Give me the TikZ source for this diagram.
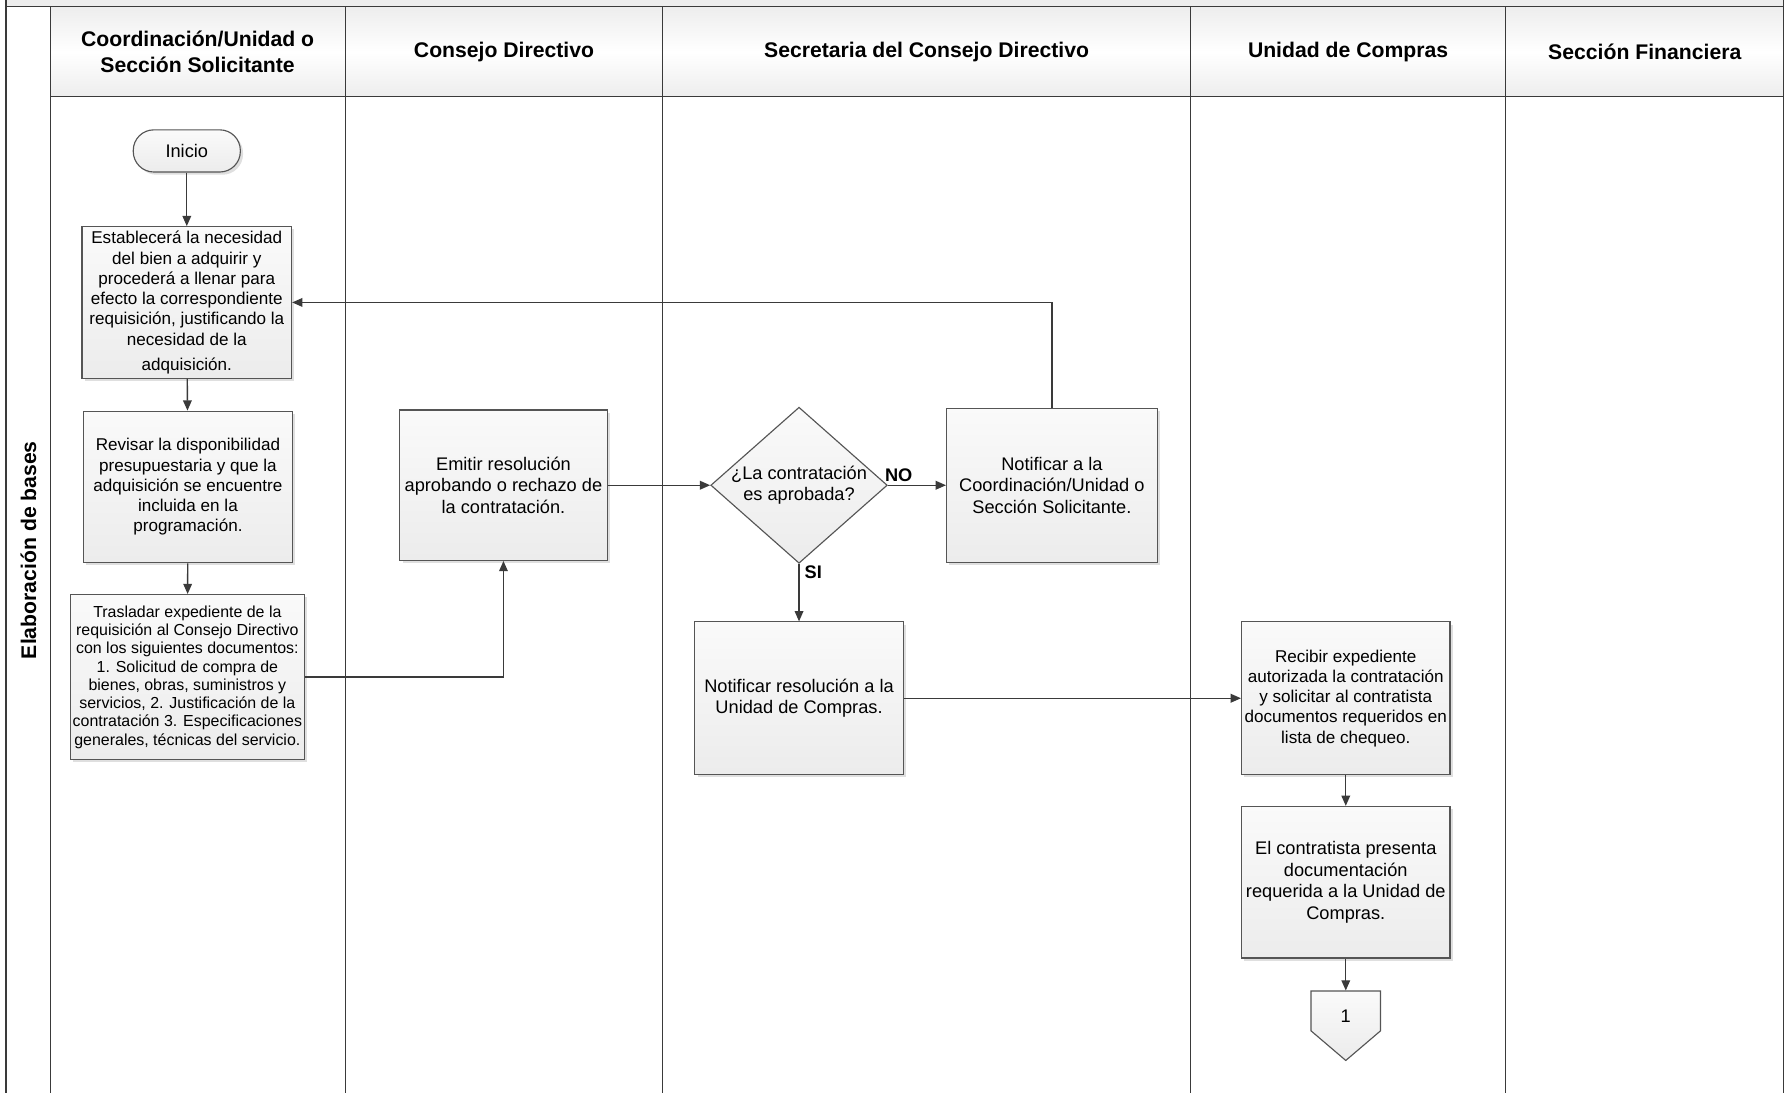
\documentclass[tikz,border=0pt]{standalone}
\usepackage{fontspec}
\setmainfont{Liberation Sans}
\usetikzlibrary{arrows.meta,shapes.geometric,shadows}
\definecolor{ln}{HTML}{3A3A3A}
\definecolor{bd}{HTML}{555555}
\tikzset{
 shd/.style={top color=gray!4, bottom color=gray!15},
 box/.style={draw=bd, line width=0.5pt, shd, drop shadow={shadow xshift=1.2pt, shadow yshift=-1.2pt, opacity=0.25}, align=center, inner sep=1pt},
 fA/.style={font=\fontsize{8}{9.5}\selectfont},
 fB/.style={font=\fontsize{7.5}{8.9}\selectfont},
 fC/.style={font=\fontsize{7}{8}\selectfont},
 hdr/.style={draw=ln, line width=0.5pt, top color=gray!14, bottom color=gray!14, middle color=white, font=\bfseries\fontsize{9.3}{11.5}\selectfont, align=center, inner sep=0pt, minimum height=39.5pt},
 conn/.style={draw=ln, line width=0.6pt, -{Triangle[length=4.5pt,width=3.8pt]}},
 lane/.style={draw=ln, line width=0.5pt},
 tag/.style={font=\bfseries\fontsize{8}{9}\selectfont, inner sep=1pt}
}
\begin{document}
\begin{tikzpicture}[x=0.5pt, y=-0.5pt]
\useasboundingbox (0,0) rectangle (1568,960);
% top band
\fill[gray!14] (5,0) rectangle (1566,6);
% pool frame
\draw[lane, line width=0.8pt] (5,0) -- (5,960);
\draw[lane] (5,6) -- (1566,6);
\draw[lane] (44,6) -- (44,960);
\draw[lane] (1566,0) -- (1566,960);
% headers
\node[hdr, minimum width=129.5pt] (h1) at (173.5,45.5) {Coordinación/Unidad o\\Sección Solicitante};
\node[hdr, minimum width=139.5pt] (h2) at (442.5,45.5) {Consejo Directivo};
\node[hdr, minimum width=231.5pt] (h3) at (813.5,45.5) {Secretaria del Consejo Directivo};
\node[hdr, minimum width=138.5pt] (h4) at (1183.5,45.5) {Unidad de Compras};
\node[hdr, minimum width=122pt] (h5) at (1444,45.5) {Sección Financiera};
% lane lines
\draw[lane] (303,85) -- (303,960);
\draw[lane] (582,85) -- (582,960);
\draw[lane] (1045,85) -- (1045,960);
\draw[lane] (1322,85) -- (1322,960);
% lane label
\node[rotate=90, font=\bfseries\fontsize{9.3}{11}\selectfont] (lbl) at (25,483) {Elaboración de bases};

% nodes
\node[box, fA, rounded corners=9pt, minimum width=47pt, minimum height=18.5pt] (start) at (164,132.5) {Inicio};
\node[box, fB, minimum width=92pt, minimum height=66.5pt] (b1) at (164,265.5) {Establecerá la necesidad\\del bien a adquirir y\\procederá a llenar para\\efecto la correspondiente\\requisición, justificando la\\necesidad de la\\[2pt]adquisición.};
\node[box, fB, minimum width=92pt, minimum height=66.5pt] (b2) at (165,427.5) {Revisar la disponibilidad\\presupuestaria y que la\\adquisición se encuentre\\incluida en la\\programación.};
\node[box, fC, minimum width=100.5pt, minimum height=72.5pt] (b3) at (164.5,594.5) {Trasladar expediente de la\\requisición al Consejo Directivo\\con los siguientes documentos:\\1. Solicitud de compra de\\bienes, obras, suministros y\\servicios, 2. Justificación de la\\contratación 3. Especificaciones\\generales, técnicas del servicio.};
\node[box, fA, minimum width=91pt, minimum height=66pt] (b4) at (442,426) {Emitir resolución\\aprobando o rechazo de\\la contratación.};
\node[diamond, draw=bd, line width=0.5pt, shd, minimum width=77.5pt, minimum height=68.5pt, inner sep=0pt, label={[fA, align=center]center:{¿La contratación\\es aprobada?}}] (dec) at (701.5,426) {};
\node[box, fA, minimum width=92.5pt, minimum height=67.5pt] (b5) at (923.5,426) {Notificar a la\\Coordinación/Unidad o\\Sección Solicitante.};
\node[box, fA, minimum width=91.5pt, minimum height=67pt] (b6) at (701.5,613) {Notificar resolución a la\\Unidad de Compras.};
\node[box, fB, minimum width=91.5pt, minimum height=67pt] (b7) at (1181.5,613) {Recibir expediente\\autorizada la contratación\\y solicitar al contratista\\documentos requeridos en\\lista de chequeo.};
\node[box, fA, minimum width=91.5pt, minimum height=66.5pt] (b8) at (1181.5,774.5) {El contratista presenta\\documentación\\requerida a la Unidad de\\Compras.};
% off-page connector
\draw[draw=bd, line width=0.5pt, shd] (1151,870) -- (1212,870) -- (1212,905) -- (1181.5,931) -- (1151,905) -- cycle;
\node[fA, minimum width=30.5pt, minimum height=22pt, inner sep=0pt] (c1) at (1181.5,892) {1};

% connectors
\draw[conn] (start) -- (b1);
\draw[conn] (b1) -- (b2);
\draw[conn] (b2) -- (b3);
\draw[conn] (b3.east) -| (b4.south);
\draw[conn] (b4.east) -- (dec.west);
\draw[conn] (dec.east) -- (b5.west);
\draw[conn] (dec.south) -- (b6.north);
\draw[conn] (b5.north) |- (b1.east);
\draw[conn] (b6.east) -- (b7.west);
\draw[conn] (b7) -- (b8);
\draw[conn] (b8.south) -- (c1.north);
\node[tag] (no) at (789,417) {NO};
\node[tag] (si) at (714,502) {SI};
\end{tikzpicture}
\end{document}
